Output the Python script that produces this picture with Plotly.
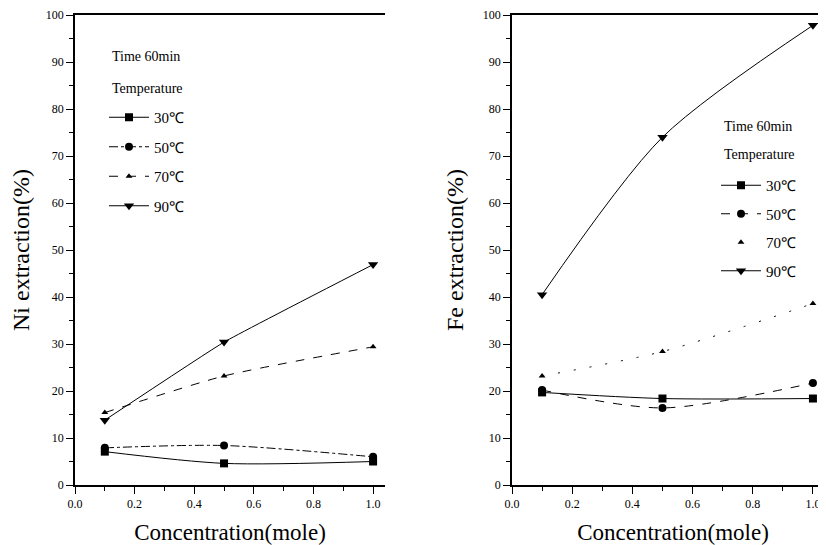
import plotly.graph_objects as go

conc = [0.1, 0.5, 1.0]
temps = ["30℃", "50℃", "70℃", "90℃"]

ni_30 = [7.1, 4.6, 5.0]
ni_50 = [7.9, 8.4, 6.0]
ni_70 = [15.4, 23.2, 29.4]
ni_90 = [13.8, 30.4, 46.9]

fe_30 = [19.7, 18.4, 18.4]
fe_50 = [20.2, 16.4, 21.7]
fe_70 = [23.2, 28.4, 38.6]
fe_90 = [40.5, 74.0, 97.8]

FONT = "Liberation Serif"

symbols = ["square", "circle", "triangle-up", "triangle-down"]
sizes = [8, 8, 6, 9]
left_dash = ["solid", "dashdot", "dash", "solid"]
right_dash = ["solid", "dash", "2px,14px", "solid"]
left_smooth = [0.8, 0.8, 0.6, 0.3]
right_smooth = [0.8, 0.8, 0.8, 0.8]

fig = go.Figure()

for i, (t, ys) in enumerate(zip(temps, [ni_30, ni_50, ni_70, ni_90])):
    fig.add_trace(go.Scatter(
        x=conc, y=ys, name=t, mode="lines+markers",
        line=dict(color="black", width=1, dash=left_dash[i], shape="spline", smoothing=left_smooth[i]),
        marker=dict(symbol=symbols[i], size=sizes[i], color="black"),
        xaxis="x", yaxis="y", legend="legend", legendgroup="l" + t,
    ))

for i, (t, ys) in enumerate(zip(temps, [fe_30, fe_50, fe_70, fe_90])):
    if t == "70℃":
        # dotted fitted curve (no legend glyph line), then markers carrying the legend entry
        fig.add_trace(go.Scatter(
            x=conc, y=ys, name=t, mode="lines", showlegend=False,
            line=dict(color="black", width=1, dash=right_dash[i], shape="spline", smoothing=right_smooth[i]),
            xaxis="x2", yaxis="y2", legend="legend2", legendgroup="r" + t,
        ))
        fig.add_trace(go.Scatter(
            x=conc, y=ys, name=t, mode="markers",
            marker=dict(symbol=symbols[i], size=sizes[i], color="black"),
            xaxis="x2", yaxis="y2", legend="legend2", legendgroup="r" + t,
        ))
        continue
    fig.add_trace(go.Scatter(
        x=conc, y=ys, name=t, mode="lines+markers",
        line=dict(color="black", width=1, dash=right_dash[i], shape="spline", smoothing=right_smooth[i]),
        marker=dict(symbol=symbols[i], size=sizes[i], color="black"),
        xaxis="x2", yaxis="y2", legend="legend2", legendgroup="r" + t,
    ))

W, H = 826, 545
OFF = 8  # page body margin
def px(x):
    return (x - OFF) / W
def py(y):
    return (H - (y - OFF)) / H

xcommon = dict(
    automargin=False,
    showline=True, linecolor="black", linewidth=1.5, mirror=True,
    ticks="outside", ticklen=7, tickwidth=1.2, tickcolor="black",
    dtick=0.2, tick0=0, tickformat=".1f",
    minor=dict(ticks="outside", ticklen=4, dtick=0.1, tickcolor="black"),
    showgrid=False, zeroline=False,
    tickfont=dict(family=FONT, size=12, color="black"),
    title=dict(text="Concentration(mole)", font=dict(family=FONT, size=23, color="black"), standoff=14),
)
ycommon = dict(
    automargin=False,
    showline=True, linecolor="black", linewidth=1.5, mirror=False,
    ticks="outside", ticklen=7, tickwidth=1.2, tickcolor="black",
    range=[0, 100], dtick=10, tick0=0,
    minor=dict(ticks="outside", ticklen=4, dtick=5, tickcolor="black"),
    showgrid=False, zeroline=False,
    tickfont=dict(family=FONT, size=12, color="black"),
)

fig.update_layout(
    width=W, height=H,
    margin=dict(l=0, r=0, t=0, b=0, autoexpand=False),
    paper_bgcolor="white", plot_bgcolor="white",
    xaxis=dict(domain=[px(75), px(385)], range=[0, 1.04], anchor="y", **xcommon),
    yaxis=dict(domain=[py(485), py(15)], anchor="x",
               title=dict(text="Ni extraction(%)", font=dict(family=FONT, size=24, color="black"), standoff=16),
               **ycommon),
    xaxis2=dict(domain=[px(512), 1.0], range=[0, 1.07 * (1.0 - px(512)) / (px(834) - px(512))], anchor="y2", **xcommon),
    yaxis2=dict(domain=[py(485), py(15)], anchor="x2",
                title=dict(text="Fe extraction(%)", font=dict(family=FONT, size=24, color="black"), standoff=12),
                **ycommon),
    legend=dict(x=px(104), y=py(101), xanchor="left", yanchor="top",
                bgcolor="rgba(0,0,0,0)", font=dict(family=FONT, size=15, color="black"),
                traceorder="grouped", tracegroupgap=7, itemwidth=40),
    legend2=dict(x=px(716), y=py(169), xanchor="left", yanchor="top",
                 bgcolor="rgba(0,0,0,0)", font=dict(family=FONT, size=15, color="black"),
                 traceorder="grouped", tracegroupgap=6, itemwidth=40),
    annotations=[
        dict(text="Time 60min", x=px(110), y=py(57), xref="paper", yref="paper",
             xanchor="left", yanchor="middle", showarrow=False,
             font=dict(family=FONT, size=14, color="black")),
        dict(text="Temperature", x=px(110), y=py(88), xref="paper", yref="paper",
             xanchor="left", yanchor="middle", showarrow=False,
             font=dict(family=FONT, size=14, color="black")),
        dict(text="Time 60min", x=px(722), y=py(126), xref="paper", yref="paper",
             xanchor="left", yanchor="middle", showarrow=False,
             font=dict(family=FONT, size=14, color="black")),
        dict(text="Temperature", x=px(722), y=py(155), xref="paper", yref="paper",
             xanchor="left", yanchor="middle", showarrow=False,
             font=dict(family=FONT, size=14, color="black")),
    ],
)

fig.write_html("out.html")
